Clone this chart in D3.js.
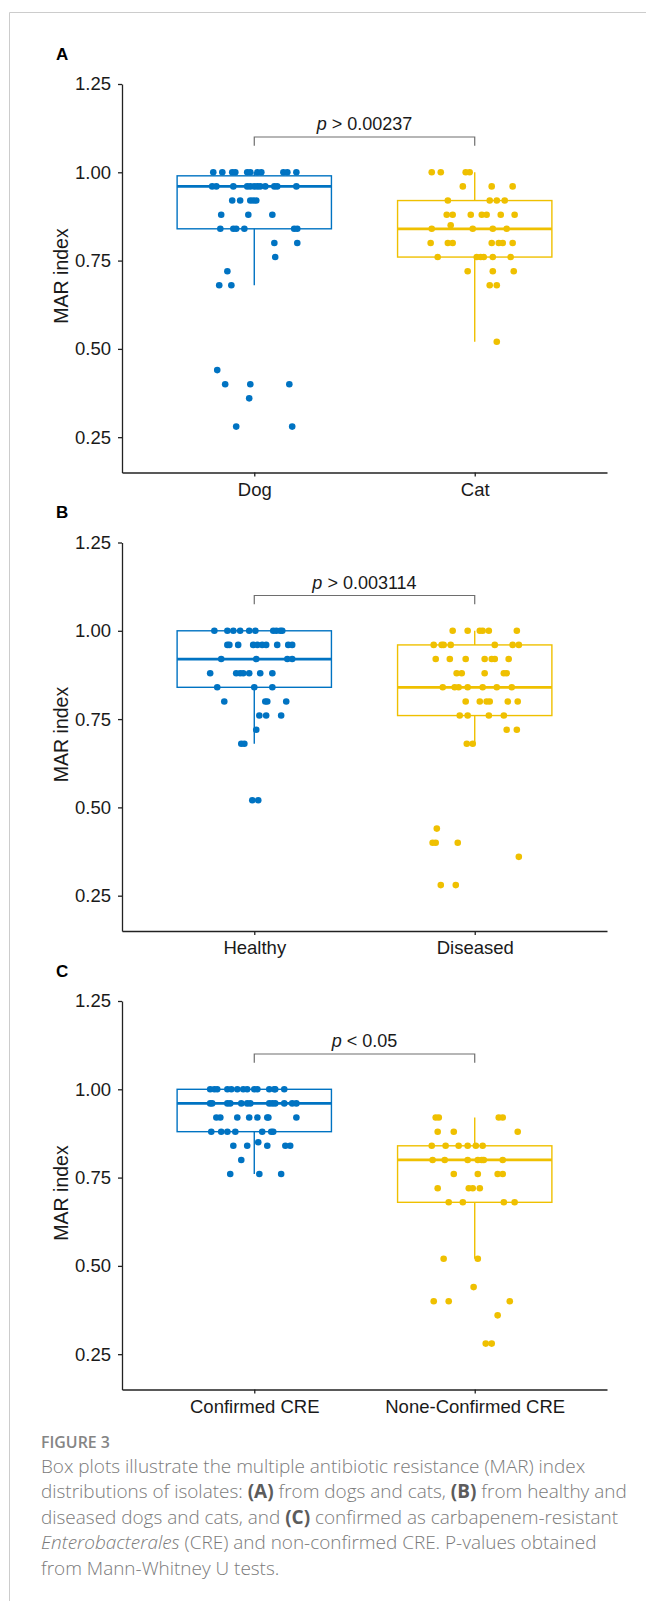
<!DOCTYPE html>
<html>
<head>
<meta charset="utf-8">
<script src="https://cdn.jsdelivr.net/npm/d3@7"></script>
<style>
  body { margin: 0; background: #fff; }
  svg { display: block; }
</style>
</head>
<body>
<script>
// ---- data ----
const catsA = ['Dog', 'Cat']
const catsB = ['Healthy', 'Diseased']
const catsC = ['Confirmed CRE', 'None-Confirmed CRE']
const yTicks = [0.25, 0.5, 0.75, 1.0, 1.25]
const pLabels = [['p', ' > 0.00237'], ['p', ' > 0.003114'], ['p', ' < 0.05']]

// box stats: [lower whisker, Q1, median, Q3, upper whisker]
const dogBox = [0.68, 0.84, 0.96, 0.99, 1.00]
const catBox = [0.52, 0.76, 0.84, 0.92, 1.00]
const healthyBox = [0.68, 0.84, 0.92, 1.00, 1.00]
const diseasedBox = [0.68, 0.76, 0.84, 0.96, 1.00]
const confBox = [0.76, 0.88, 0.96, 1.00, 1.00]
const nonConfBox = [0.52, 0.68, 0.80, 0.84, 0.92]

// MAR index of each isolate, and its horizontal jitter (fraction of category spacing)
const dogMAR = [
  1, 1, 1, 1, 1, 1, 1, 1, 1, 1, 1,
  0.96, 0.96, 0.96, 0.96, 0.96, 0.96, 0.96, 0.96, 0.96, 0.96, 0.96, 0.96,
  0.92, 0.92, 0.92, 0.92, 0.92,
  0.88, 0.88, 0.88,
  0.84, 0.84, 0.84, 0.84, 0.84, 0.84,
  0.80, 0.80, 0.76, 0.72, 0.68, 0.68,
  0.44, 0.40, 0.40, 0.40, 0.36, 0.28, 0.28]
const dogJit = [
  -0.186, -0.145, -0.100, -0.086, -0.032, -0.018, 0.014, 0.032, 0.132, 0.150, 0.191,
  -0.191, -0.172, -0.095, -0.032, -0.018, 0.000, 0.014, 0.027, 0.050, 0.091, 0.104, 0.191,
  -0.100, -0.064, -0.018, -0.005, 0.009,
  -0.150, -0.027, 0.082,
  -0.154, -0.095, -0.082, -0.045, 0.181, 0.195,
  0.091, 0.195, 0.095, -0.122, -0.159, -0.104,
  -0.168, -0.132, -0.018, 0.159, -0.023, -0.082, 0.172]

const catMAR = [
  1, 1, 1, 1,
  0.96, 0.96, 0.96,
  0.92, 0.92, 0.92, 0.92,
  0.88, 0.88, 0.88, 0.88, 0.88, 0.88, 0.88,
  0.85,
  0.84, 0.84, 0.84, 0.84,
  0.80, 0.80, 0.80, 0.80, 0.80, 0.80, 0.80,
  0.76, 0.76, 0.76, 0.76, 0.76, 0.76,
  0.72, 0.72, 0.72, 0.68, 0.68, 0.52]
const catJit = [
  -0.195, -0.154, -0.041, -0.023,
  -0.054, 0.077, 0.172,
  -0.122, 0.068, 0.100, 0.136,
  -0.127, -0.100, -0.018, 0.032, 0.054, 0.118, 0.181,
  -0.109,
  -0.195, -0.009, 0.082, 0.145,
  -0.200, -0.122, -0.100, 0.077, 0.109, 0.127, 0.172,
  -0.168, 0.009, 0.027, 0.041, 0.082, 0.163,
  -0.032, 0.082, 0.177, 0.068, 0.100, 0.100]

const healthyMAR = [
  1, 1, 1, 1, 1, 1, 1, 1, 1, 1,
  0.96, 0.96, 0.96, 0.96, 0.96, 0.96, 0.96, 0.96, 0.96, 0.96,
  0.92, 0.92, 0.92, 0.92,
  0.88, 0.88, 0.88, 0.88, 0.88, 0.88, 0.88,
  0.84, 0.84, 0.84,
  0.80, 0.80, 0.80, 0.80,
  0.76, 0.76, 0.76, 0.72, 0.68, 0.68, 0.52, 0.52]
const healthyJit = [
  -0.181, -0.122, -0.095, -0.064, -0.023, 0.005, 0.086, 0.100, 0.118, 0.127,
  -0.122, -0.113, -0.073, -0.005, 0.014, 0.036, 0.054, 0.104, 0.154, 0.172,
  -0.150, 0.009, 0.150, 0.172,
  -0.200, -0.082, -0.064, -0.050, -0.023, 0.027, 0.082,
  -0.168, 0.000, 0.082,
  -0.136, 0.050, 0.059, 0.145,
  0.023, 0.054, 0.122, 0.009, -0.059, -0.045, -0.009, 0.018]

const diseasedMAR = [
  1, 1, 1, 1, 1, 1,
  0.96, 0.96, 0.96, 0.96, 0.96, 0.96, 0.96,
  0.92, 0.92, 0.92, 0.92, 0.92, 0.92, 0.92,
  0.88, 0.88, 0.88, 0.88, 0.88,
  0.84, 0.84, 0.84, 0.84, 0.84, 0.84, 0.84,
  0.80, 0.80, 0.80, 0.80, 0.80, 0.80,
  0.76, 0.76, 0.76, 0.76,
  0.72, 0.72, 0.68, 0.68,
  0.44, 0.40, 0.40, 0.40, 0.36, 0.28, 0.28]
const diseasedJit = [
  -0.100, -0.032, 0.023, 0.036, 0.064, 0.191,
  -0.186, -0.150, -0.141, -0.109, 0.091, 0.172, 0.200,
  -0.177, -0.113, -0.041, 0.045, 0.077, 0.091, 0.154,
  -0.082, -0.059, 0.045, 0.132, 0.145,
  -0.145, -0.091, -0.073, -0.032, 0.036, 0.100, 0.168,
  -0.041, 0.023, 0.054, 0.068, 0.150, 0.195,
  -0.068, -0.032, 0.064, 0.132,
  0.145, 0.191, -0.036, -0.009,
  -0.172, -0.191, -0.177, -0.077, 0.200, -0.154, -0.086]

const confMAR = [
  1, 1, 1, 1, 1, 1, 1, 1, 1, 1, 1, 1, 1, 1,
  0.96, 0.96, 0.96, 0.96, 0.96, 0.96, 0.96, 0.96, 0.96, 0.96, 0.96, 0.96, 0.96,
  0.92, 0.92, 0.92, 0.92, 0.92, 0.92, 0.92, 0.92,
  0.88, 0.88, 0.88, 0.88, 0.88, 0.88, 0.88,
  0.85,
  0.84, 0.84, 0.84, 0.84, 0.84,
  0.80, 0.76, 0.76, 0.76]
const confJit = [
  -0.200, -0.181, -0.168, -0.122, -0.104, -0.077, -0.050, -0.032, 0.000, 0.014, 0.068, 0.091, 0.095, 0.136,
  -0.200, -0.191, -0.122, -0.109, -0.059, -0.032, -0.018, 0.068, 0.082, 0.095, 0.136, 0.172, 0.191,
  -0.172, -0.154, -0.077, -0.023, 0.014, 0.059, 0.064, 0.191,
  -0.195, -0.150, -0.122, -0.086, 0.036, 0.077, 0.086,
  0.018,
  -0.095, -0.032, 0.059, 0.141, 0.163,
  -0.059, -0.109, 0.023, 0.122]

const nonConfMAR = [
  0.92, 0.92, 0.92, 0.92,
  0.88, 0.88, 0.88,
  0.84, 0.84, 0.84, 0.84, 0.84, 0.84,
  0.80, 0.80, 0.80, 0.80, 0.80, 0.80, 0.80,
  0.76, 0.76, 0.76, 0.76,
  0.72, 0.72, 0.72, 0.72,
  0.68, 0.68, 0.68, 0.68,
  0.52, 0.52, 0.44, 0.40, 0.40, 0.40, 0.36, 0.28, 0.28]
const nonConfJit = [
  -0.177, -0.163, 0.109, 0.127,
  -0.168, -0.095, 0.195,
  -0.195, -0.132, -0.073, -0.032, 0.005, 0.036,
  -0.191, -0.136, -0.032, 0.014, 0.032, 0.041, 0.127,
  -0.095, 0.014, 0.104, 0.127,
  -0.168, -0.027, -0.009, 0.023,
  -0.118, -0.054, 0.132, 0.181,
  -0.141, 0.014, -0.005, -0.186, -0.118, 0.159, 0.104, 0.050, 0.077]

const colors = ['#0073C2', '#EFC000']

const panels = [
  { label: 'A', cats: catsA, p: pLabels[0],
    groups: [{ v: dogMAR, j: dogJit, box: dogBox }, { v: catMAR, j: catJit, box: catBox }] },
  { label: 'B', cats: catsB, p: pLabels[1],
    groups: [{ v: healthyMAR, j: healthyJit, box: healthyBox }, { v: diseasedMAR, j: diseasedJit, box: diseasedBox }] },
  { label: 'C', cats: catsC, p: pLabels[2],
    groups: [{ v: confMAR, j: confJit, box: confBox }, { v: nonConfMAR, j: nonConfJit, box: nonConfBox }] }
]

// ---- drawing ----
const width = 646
const height = 1601
const panelStep = 458.5
const font = "'Liberation Sans', Arial, sans-serif"

const svg = d3.select('body')
  .append('svg')
  .attr('width', width)
  .attr('height', height)

// page frame (top and left rules)
svg.append('path')
  .attr('d', `M9.5,${height}V12.5H${width}`)
  .attr('fill', 'none')
  .attr('stroke', '#cccccc')
  .attr('stroke-width', 1)

panels.forEach((panel, i) => {
  let off = i * panelStep
  let g = svg.append('g')

  let y = d3.scaleLinear().domain([0.15, 1.25]).range([472.5 + off, 84 + off])
  let x = d3.scalePoint().domain(panel.cats).range([122, 607]).padding(0.6)
  let step = x.step()
  let bw = step * 0.7

  // axes
  let yAxis = g.append('g')
    .attr('transform', 'translate(122,0)')
    .call(d3.axisLeft(y).tickValues(yTicks).tickFormat(d3.format('.2f')).tickSize(4).tickSizeOuter(0).tickPadding(7))
  let xAxis = g.append('g')
    .attr('transform', `translate(0,${y(0.15)})`)
    .call(d3.axisBottom(x).tickSize(4).tickSizeOuter(0).tickPadding(6))

  ;[yAxis, xAxis].forEach(a => {
    a.select('.domain').attr('stroke', '#222').attr('stroke-width', 1.3)
    a.selectAll('.tick line').attr('stroke', '#222').attr('stroke-width', 1.3)
    a.selectAll('.tick text')
      .attr('fill', '#1a1a1a')
      .attr('font-family', font)
      .attr('font-size', 18.5)
  })

  // y title
  g.append('text')
    .attr('transform', `translate(68,${276 + off}) rotate(-90)`)
    .attr('text-anchor', 'middle')
    .attr('font-family', font)
    .attr('font-size', 19.5)
    .attr('fill', '#1a1a1a')
    .text('MAR index')

  // panel letter
  g.append('text')
    .attr('x', 56)
    .attr('y', 59.5 + off)
    .attr('font-family', font)
    .attr('font-weight', 'bold')
    .attr('font-size', 17)
    .attr('fill', '#000')
    .text(panel.label)

  // boxes
  panel.groups.forEach((grp, k) => {
    let cx = x(panel.cats[k])
    let [lo, q1, med, q3, hi] = grp.box
    let col = colors[k]
    let bg = g.append('g')
    bg.append('line')
      .attr('x1', cx).attr('x2', cx)
      .attr('y1', y(q3)).attr('y2', y(hi))
      .attr('stroke', col).attr('stroke-width', 1.4)
    bg.append('line')
      .attr('x1', cx).attr('x2', cx)
      .attr('y1', y(q1)).attr('y2', y(lo))
      .attr('stroke', col).attr('stroke-width', 1.4)
    bg.append('rect')
      .attr('x', cx - bw / 2)
      .attr('y', y(q3))
      .attr('width', bw)
      .attr('height', y(q1) - y(q3))
      .attr('fill', 'none')
      .attr('stroke', col)
      .attr('stroke-width', 1.4)
    bg.append('line')
      .attr('x1', cx - bw / 2).attr('x2', cx + bw / 2)
      .attr('y1', y(med)).attr('y2', y(med))
      .attr('stroke', col).attr('stroke-width', 2.8)
  })

  // jittered points
  panel.groups.forEach((grp, k) => {
    let cx = x(panel.cats[k])
    g.append('g')
      .selectAll('circle')
      .data(grp.v)
      .enter()
      .append('circle')
      .attr('cx', (d, n) => cx + grp.j[n] * step)
      .attr('cy', d => y(d))
      .attr('r', 3.3)
      .attr('fill', colors[k])
  })

  // comparison bracket
  let x0 = x(panel.cats[0])
  let x1 = x(panel.cats[1])
  let yb = y(1.10)
  let yt = y(1.075)
  g.append('path')
    .attr('d', `M${x0},${yt}V${yb}H${x1}V${yt}`)
    .attr('fill', 'none')
    .attr('stroke', '#6e6e6e')
    .attr('stroke-width', 1.2)
  let pt = g.append('text')
    .attr('x', (x0 + x1) / 2)
    .attr('y', yb - 6.5)
    .attr('text-anchor', 'middle')
    .attr('font-family', font)
    .attr('font-size', 18)
    .attr('fill', '#1a1a1a')
  pt.append('tspan').attr('font-style', 'italic').text(panel.p[0])
  pt.append('tspan').text(panel.p[1])
})

// ---- caption ----
const capFont = "'Open Sans', 'Noto Sans', sans-serif"
const capLines = [
  [['Box plots illustrate the multiple antibiotic resistance (MAR) index', '']],
  [['distributions of isolates: ', ''], ['(A)', 'b'], [' from dogs and cats, ', ''], ['(B)', 'b'], [' from healthy and', '']],
  [['diseased dogs and cats, and ', ''], ['(C)', 'b'], [' confirmed as carbapenem-resistant', '']],
  [['Enterobacterales', 'i'], [' (CRE) and non-confirmed CRE. P-values obtained', '']],
  [['from Mann-Whitney U tests.', '']]
]

let fig = svg.append('text')
  .attr('x', 41)
  .attr('y', 1447.5)
  .attr('font-family', capFont)
  .attr('font-size', 14)
  .attr('font-weight', 600)
  .attr('fill', '#858585')
  .text('FIGURE 3')
let fw = fig.node().getComputedTextLength()
fig.attr('font-size', 14 * 69 / fw)

let capG = svg.append('g')
let capTexts = capLines.map((line, i) => {
  let t = capG.append('text')
    .attr('x', 41)
    .attr('y', 1472.5 + i * 25.5)
    .attr('font-family', capFont)
    .attr('font-size', 16)
    .attr('font-weight', 300)
    .attr('fill', '#7a7a7a')
  line.forEach(seg => {
    let s = t.append('tspan').text(seg[0])
    if (seg[1] === 'b') s.attr('font-weight', 'bold').attr('fill', '#5c5c5c')
    if (seg[1] === 'i') s.attr('font-style', 'italic')
  })
  return t
})
let lw = capTexts[1].node().getComputedTextLength()
capTexts.forEach(t => t.attr('font-size', 16 * 586 / lw))
</script>
</body>
</html>
